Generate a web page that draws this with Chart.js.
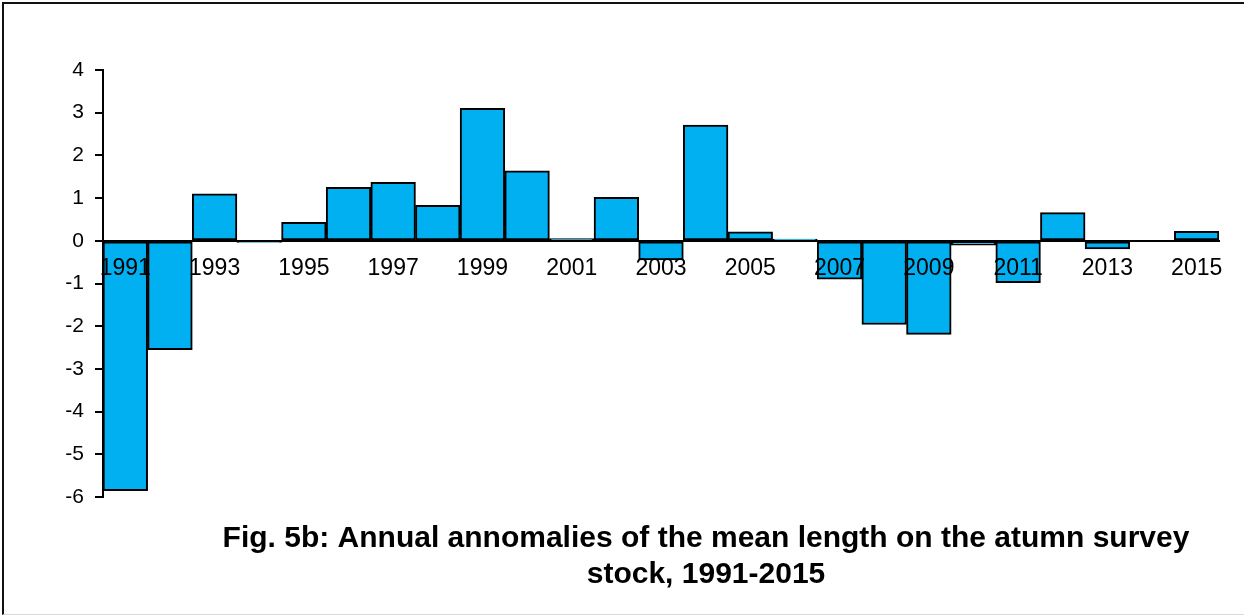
<!DOCTYPE html>
<html>
<head>
<meta charset="utf-8">
<script src="https://cdn.jsdelivr.net/npm/chart.js@4/dist/chart.umd.min.js"></script>
<style>
  html, body { margin: 0; padding: 0; background: #fff; }
  #wrap { position: relative; width: 1244px; height: 616px; overflow: hidden; }
  #frame { position: absolute; left: 2px; top: 2px; width: 1250px; height: 610px;
           border-top: 2px solid #111; border-left: 2px solid #111; border-bottom: 1px solid #d9d9d9; box-sizing: content-box; pointer-events: none; }
  canvas { position: absolute; left: 0; top: 0; }
</style>
</head>
<body>
<div id="wrap">
  <canvas id="c" width="1244" height="616"></canvas>
  <div id="frame"></div>
</div>
<script>
const years = ["1991","1992","1993","1994","1995","1996","1997","1998","1999","2000",
               "2001","2002","2003","2004","2005","2006","2007","2008","2009","2010",
               "2011","2012","2013","2014","2015"];
const anomalies = [-5.85, -2.55, 1.1, -0.04, 0.43, 1.25, 1.37, 0.83, 3.1, 1.64,
                   0.05, 1.02, -0.45, 2.71, 0.21, 0.04, -0.9, -1.96, -2.19, -0.1,
                   -0.98, 0.66, -0.19, 0, 0.22];
const yTicks = [-6, -5, -4, -3, -2, -1, 0, 1, 2, 3, 4];
const titleLines = ["Fig. 5b: Annual annomalies of the mean length on the atumn survey",
                    "stock, 1991-2015"];

const FONT = "'Liberation Sans', Arial, sans-serif";

const titlePlugin = {
  id: 'bottomTitle',
  afterDraw(chart) {
    const ctx = chart.ctx;
    ctx.save();
    ctx.fillStyle = '#000';
    ctx.font = "bold 30px " + FONT;
    ctx.textAlign = 'center';
    ctx.textBaseline = 'alphabetic';
    ctx.fillText(titleLines[0], 706, 547);
    ctx.fillText(titleLines[1], 706, 583);
    ctx.restore();
  }
};

new Chart(document.getElementById('c'), {
  type: 'bar',
  data: {
    labels: years,
    datasets: [{
      data: anomalies,
      backgroundColor: '#00B0F0',
      borderColor: '#000',
      borderWidth: 2,
      borderSkipped: false,
      barPercentage: 1.0,
      categoryPercentage: 1.0
    }]
  },
  options: {
    responsive: false,
    animation: false,
    devicePixelRatio: 1,
    layout: { padding: { left: 0, right: 25, top: 70, bottom: 119 } },
    plugins: { legend: { display: false }, tooltip: { enabled: false }, title: { display: false } },
    scales: {
      x: {
        position: { y: 0 },
        grid: { display: false, drawTicks: false },
        border: { display: true, color: '#000', width: 2, z: 1 },
        ticks: {
          z: 2,
          autoSkip: false,
          maxRotation: 0,
          padding: 14,
          color: '#000',
          font: { family: FONT, size: 23 },
          callback: function(v, i) { return i % 2 === 0 ? years[i] : ''; }
        }
      },
      y: {
        min: -6,
        max: 4,
        afterFit: function(s) { s.width = 103; },
        afterBuildTicks: function(s) { s.ticks = yTicks.map(v => ({ value: v })); },
        grid: { drawOnChartArea: false, drawTicks: true, tickLength: 8, color: '#000', lineWidth: 2 },
        border: { display: true, color: '#000', width: 2 },
        ticks: {
          padding: 11,
          color: '#000',
          font: { family: FONT, size: 21 }
        }
      }
    }
  },
  plugins: [titlePlugin]
});
</script>
</body>
</html>
